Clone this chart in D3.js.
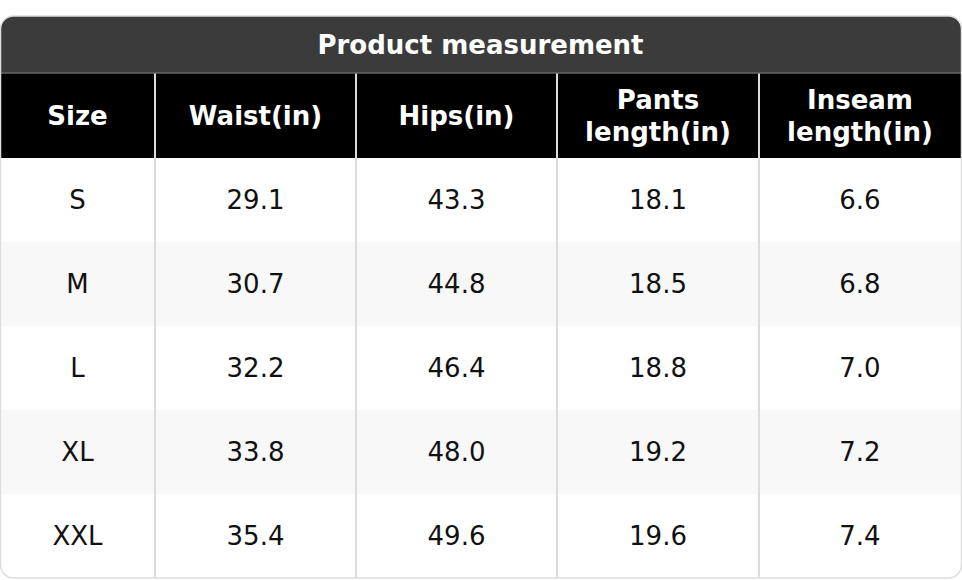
<!DOCTYPE html>
<html><head><meta charset="utf-8">
<script src="https://cdn.jsdelivr.net/npm/d3@7"></script>
<style>body{margin:0;background:#fff}svg{display:block}</style>
</head><body><svg id="c" width="962" height="580"></svg>
<script>
const title = "Product measurement";
const headers = [["Size"],["Waist(in)"],["Hips(in)"],["Pants","length(in)"],["Inseam","length(in)"]];
const sizes = ["S","M","L","XL","XXL"];
const waist = ["29.1","30.7","32.2","33.8","35.4"];
const hips = ["43.3","44.8","46.4","48.0","49.6"];
const pants = ["18.1","18.5","18.8","19.2","19.6"];
const inseam = ["6.6","6.8","7.0","7.2","7.4"];
const columns = [sizes, waist, hips, pants, inseam];
const colEdges = [0,155,356,557,759,961];

const svg = d3.select("#c");
const top0 = 16, titleH = 57, headH = 85, rowH = 84, W = 961;
const x = d3.scaleOrdinal().domain(d3.range(5)).range(colEdges.slice(0,5));
const wOf = i => colEdges[i+1]-colEdges[i];
const y = d3.scaleBand().domain(d3.range(sizes.length)).range([top0+titleH+headH, top0+titleH+headH+rowH*sizes.length]);
const H = y.range()[1]-top0;
const font = "DejaVu Sans, sans-serif";

svg.append("clipPath").attr("id","cl").append("rect").attr("x",0.5).attr("y",top0).attr("width",W).attr("height",H).attr("rx",13);
const g = svg.append("g").attr("clip-path","url(#cl)");
g.append("rect").attr("x",0).attr("y",top0).attr("width",W+1).attr("height",titleH).attr("fill","#3b3b3b");
g.append("rect").attr("x",0).attr("y",top0+titleH).attr("width",W+1).attr("height",headH).attr("fill","#000");
g.selectAll(".row").data(sizes).join("rect").attr("x",0).attr("y",(d,i)=>y(i)).attr("width",W+1).attr("height",rowH)
 .attr("fill",(d,i)=>i%2?"#f8f8f8":"#fff");
g.selectAll(".vl").data(colEdges.slice(1,5)).join("line").attr("x1",d=>d).attr("x2",d=>d)
 .attr("y1",top0+titleH).attr("y2",top0+H).attr("stroke","#dcdcdc").attr("stroke-width",2);
g.append("line").attr("x1",0).attr("x2",W).attr("y1",top0+titleH).attr("y2",top0+titleH).attr("stroke","#666").attr("stroke-width",1.5);
svg.append("rect").attr("x",0.5).attr("y",top0).attr("width",W).attr("height",H).attr("rx",13).attr("fill","none").attr("stroke","#ddd").attr("stroke-width",1.5);

svg.append("text").attr("x",W/2).attr("y",top0+titleH/2).attr("dy","0.36em").attr("text-anchor","middle")
 .attr("font-family",font).attr("font-weight","bold").attr("font-size",26).attr("fill","#fff").text(title);

headers.forEach((h,i)=>{
  const cx = x(i)+wOf(i)/2, cy = top0+titleH+headH/2;
  h.forEach((line,k)=>{
    svg.append("text").attr("x",cx).attr("y",cy+(k-(h.length-1)/2)*32).attr("dy","0.36em").attr("text-anchor","middle")
     .attr("font-family",font).attr("font-weight","bold").attr("font-size",26).attr("fill","#fff").text(line);
  });
});
columns.forEach((col,i)=>{
  svg.selectAll(null).data(col).join("text").attr("x",x(i)+wOf(i)/2).attr("y",(d,r)=>y(r)+rowH/2).attr("dy","0.36em")
   .attr("text-anchor","middle").attr("font-family",font).attr("font-size",26).attr("fill","#111").text(d=>d);
});
</script></body></html>
